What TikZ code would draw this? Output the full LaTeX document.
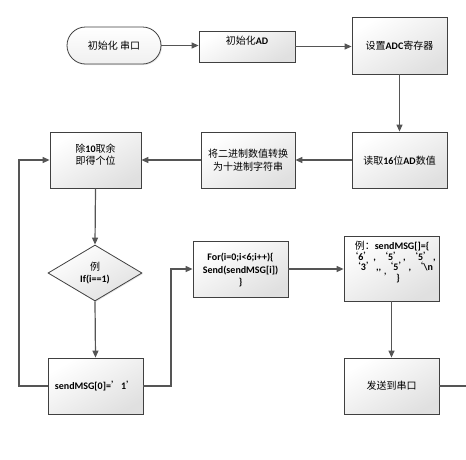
\documentclass[tikz,border=0pt]{standalone}
\usepackage{fontspec}
\setmainfont{Noto Sans CJK SC}
\newfontfamily\latfnt{Carlito}
\newcommand\mylat[1]{{\latfnt\bfseries #1}}
\usetikzlibrary{arrows.meta,shapes.geometric,shadows}
\definecolor{bordc}{RGB}{64,64,64}
\definecolor{linec}{RGB}{85,85,85}
\tikzset{
  box/.style={draw=bordc, line width=0.8pt, top color=white, bottom color=gray!24, shading angle=30,
    drop shadow={opacity=0.2, shadow xshift=1pt, shadow yshift=-1pt}, inner sep=0pt},
  txt/.style={font=\fontsize{10}{12.5}\selectfont, align=center, inner sep=0pt},
  conn/.style={draw=linec, line width=1.2pt, -{Triangle[length=7pt,width=6pt]}},
  plainline/.style={draw=linec, line width=1.2pt},
}
\begin{document}
\begin{tikzpicture}[x=1pt,y=-1pt]
\useasboundingbox (0,0) rectangle (466,459);
% nodes
\node[box, rounded corners=18.5pt, bottom color=gray!12, minimum width=94pt, minimum height=37pt] (start) at (114,45.5) {};
\node[txt] (startt) at (114,46) {初始化 串口};
\node[box, minimum width=96pt, minimum height=31pt] (ad) at (247,46.5) {};
\node[txt] (adt) at (247,40.5) {初始化\mylat{AD}};
\node[box, minimum width=95pt, minimum height=57pt] (adc) at (399.5,45.5) {};
\node[txt] (adct) at (399.5,46) {设置\mylat{ADC}寄存器};
\node[box, minimum width=95pt, minimum height=56pt] (read) at (399.5,160) {};
\node[txt] (readt) at (399.5,160.5) {读取\mylat{16}位\mylat{AD}数值};
\node[box, minimum width=94pt, minimum height=56pt] (conv) at (248,160) {};
\node[txt] (convt) at (248,160) {将二进制数值转换\\为十进制字符串};
\node[box, minimum width=91pt, minimum height=56pt] (div) at (95.5,160) {};
\node[txt] (divt) at (95.5,154.5) {除\mylat{10}取余\\即得个位};
\node[box, shape=diamond, aspect=1.68, minimum width=94pt, minimum height=56pt] (dia) at (95,273) {};
\node[txt] (diat) at (95,273) {例\\\mylat{If(i==1)}};
\node[box, minimum width=95pt, minimum height=56pt] (msg) at (95.5,386) {};
\node[txt] (msgt) at (95.5,386) {\mylat{sendMSG[0]=}’\mylat{1}’};
\node[box, minimum width=95pt, minimum height=56pt] (for) at (240.5,269) {};
\node[txt] (fort) at (240.5,270.5) {\mylat{For(i=0;i<6;i++)\{}\\\mylat{Send(sendMSG[i])}\\\mylat{\}}};
\node[box, minimum width=95pt, minimum height=65pt] (ex) at (391.5,268.5) {};
\node[txt, font=\fontsize{10}{10.5}\selectfont] (ext) at (392,262) {例：\mylat{sendMSG[]=\{}\\‘\mylat{6}’\mylat{,} ‘\mylat{5}’\mylat{,} ‘\mylat{5}’\mylat{,}\\‘\mylat{3}’\mylat{,,} ‘\mylat{5}’\mylat{,} ‘\mylat{\textbackslash n}\\’ \mylat{\}}};
\node[box, minimum width=95pt, minimum height=56pt] (send) at (391.5,386) {};
\node[txt] (sendt) at (391.5,386) {发送到串口};
% helper coordinates
\coordinate (lpb) at (19,386);
\coordinate (lpt) at (19,160);
\coordinate (rb) at (171,386);
\coordinate (rt) at (171,269);
\coordinate (outr) at (466,386);
% connectors
\draw[conn] (start.east) -- (start.east -| ad.west);
\draw[conn] (ad.east) -- (ad.east -| adc.west);
\draw[conn] (adc.south) -- (read.north);
\draw[conn] (read.west) -- (conv.east);
\draw[conn] (conv.west) -- (div.east);
\draw[conn] (div.south) -- (dia.north);
\draw[conn] (dia.south) -- (msg.north);
\draw[conn] (msg.west) -- (lpb) -- (lpt) -- (div.west);
\draw[conn] (msg.east) -- (rb) -- (rt) -- (for.west);
\draw[conn] (for.east) -- (ex.west |- for.east);
\draw[conn] (ex.south) -- (send.north);
\draw[plainline] (send.east) -- (outr);
\end{tikzpicture}
\end{document}
